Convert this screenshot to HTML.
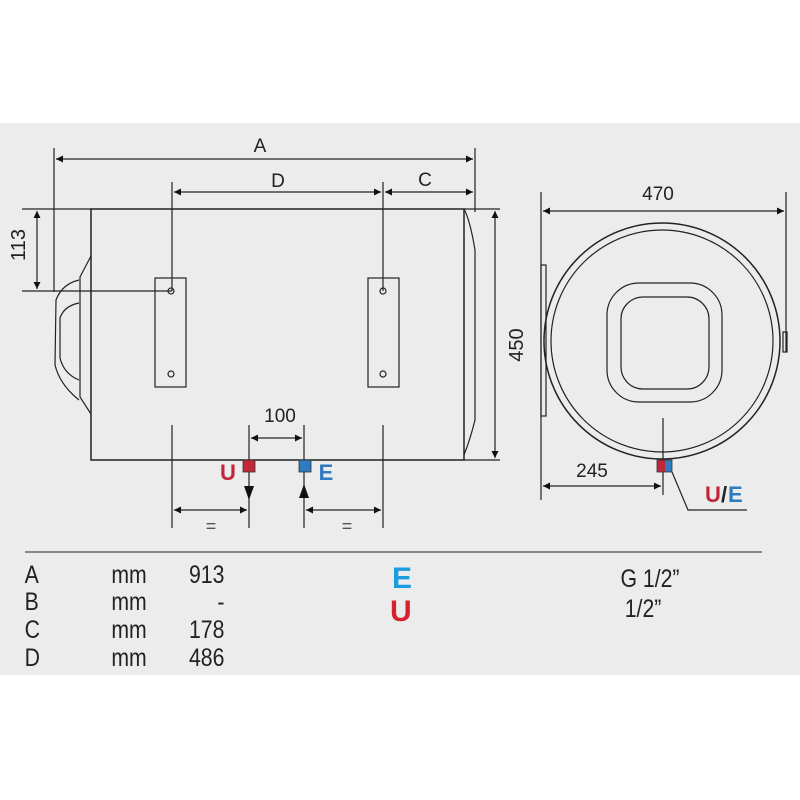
<!DOCTYPE html>
<html><head><meta charset="utf-8"><style>
html,body{margin:0;padding:0;background:#fff;}
svg{display:block}
text{font-family:"Liberation Sans",sans-serif;}
</style></head><body>
<svg width="800" height="800" viewBox="0 0 800 800" xmlns="http://www.w3.org/2000/svg">
<defs>
<marker id="ar" viewBox="0 0 10 10" refX="10" refY="5" markerWidth="9" markerHeight="7" orient="auto-start-reverse" markerUnits="userSpaceOnUse"><path d="M0,0 L10,5 L0,10 z" fill="#111"/></marker>
</defs>
<rect x="0" y="123" width="800" height="552" fill="#ececec"/>
<g stroke="#222" stroke-width="1.2" fill="none">
<line x1="54" y1="148" x2="54" y2="292"/>
<line x1="475" y1="148" x2="475" y2="212"/>
<line x1="56" y1="159" x2="473" y2="159" marker-start="url(#ar)" marker-end="url(#ar)"/>
<line x1="172" y1="182" x2="172" y2="291"/>
<line x1="383" y1="182" x2="383" y2="291"/>
<line x1="174" y1="192" x2="381" y2="192" marker-start="url(#ar)" marker-end="url(#ar)"/>
<line x1="385" y1="192" x2="473" y2="192" marker-start="url(#ar)" marker-end="url(#ar)"/>
<rect x="91" y="209" width="373" height="251" stroke-width="1.5"/>
<path d="M464,209 Q470,220 475,250 L475,420 Q470,440 464,455" />
<line x1="22" y1="209" x2="91" y2="209"/>
<line x1="22" y1="291" x2="172" y2="291"/>
<line x1="37" y1="211" x2="37" y2="289" marker-start="url(#ar)" marker-end="url(#ar)"/>
<path d="M91,256 L80,277 L80,397 L91,414"/>
<path d="M79,280 Q62,284 56,300 L55,365 Q60,385 79,400"/>
<path d="M79,303 Q64,306 60,318 L60,358 Q64,374 79,380"/>
<rect x="155" y="278" width="31" height="109"/>
<rect x="368" y="278" width="31" height="109"/>
<circle cx="171" cy="291" r="3"/><circle cx="171" cy="374" r="3"/>
<circle cx="383" cy="291" r="3"/><circle cx="383" cy="374" r="3"/>
<line x1="172" y1="425" x2="172" y2="528"/>
<line x1="383" y1="425" x2="383" y2="528"/>
<line x1="249" y1="425" x2="249" y2="528"/>
<line x1="304" y1="425" x2="304" y2="528"/>
<line x1="251" y1="438" x2="302" y2="438" marker-start="url(#ar)" marker-end="url(#ar)"/>
<line x1="174" y1="510" x2="247" y2="510" marker-start="url(#ar)" marker-end="url(#ar)"/>
<line x1="306" y1="510" x2="381" y2="510" marker-start="url(#ar)" marker-end="url(#ar)"/>
<line x1="464" y1="209" x2="500" y2="209"/>
<line x1="464" y1="460" x2="500" y2="460"/>
<line x1="495" y1="211" x2="495" y2="458" marker-start="url(#ar)" marker-end="url(#ar)"/>
<line x1="541" y1="192" x2="541" y2="500"/>
<line x1="786" y1="192" x2="786" y2="352"/>
<line x1="543" y1="211" x2="784" y2="211" marker-start="url(#ar)" marker-end="url(#ar)"/>
<circle cx="662" cy="341" r="118" stroke-width="1.5"/>
<circle cx="662" cy="341" r="111"/>
<rect x="541" y="265" width="5" height="151"/>
<rect x="783" y="332" width="4" height="20"/>
<rect x="607" y="283" width="115" height="119" rx="32"/>
<rect x="621" y="297" width="88" height="92" rx="22"/>
<line x1="663" y1="418" x2="663" y2="495"/>
<line x1="543" y1="486" x2="661" y2="486" marker-start="url(#ar)" marker-end="url(#ar)"/>
<path d="M672,472 L688,510 L747,510"/>
<line x1="25" y1="552" x2="762" y2="552" stroke="#666" stroke-width="1.5"/>
</g>
<g fill="#111">
<path d="M244,486 L254,486 L249,500 z"/>
<path d="M299,498 L309,498 L304,484 z"/>
</g>
<rect x="243" y="460" width="12" height="12" fill="#c0283a" stroke="#333" stroke-width="0.8"/>
<rect x="299" y="460" width="12" height="12" fill="#2e7bbf" stroke="#333" stroke-width="0.8"/>
<rect x="657" y="460" width="8" height="12" fill="#c0283a"/>
<rect x="665" y="460" width="7" height="12" fill="#2e7bbf"/>
<rect x="657" y="460" width="15" height="12" fill="none" stroke="#333" stroke-width="0.8"/>
<g fill="#222" font-size="19">
<text x="260" y="152" text-anchor="middle">A</text>
<text x="278" y="187" text-anchor="middle">D</text>
<text x="425" y="186" text-anchor="middle">C</text>
<text x="280" y="422" text-anchor="middle">100</text>
<text x="658" y="200" text-anchor="middle">470</text>
<text x="592" y="477" text-anchor="middle">245</text>
<text transform="translate(25,245) rotate(-90)" text-anchor="middle" font-size="20">113</text>
<text transform="translate(523,345) rotate(-90)" text-anchor="middle" font-size="20">450</text>
<text x="211" y="532" text-anchor="middle" fill="#555" font-size="18">=</text>
<text x="347" y="532" text-anchor="middle" fill="#555" font-size="18">=</text>
</g>
<g font-weight="bold" font-size="22">
<text x="228" y="480" text-anchor="middle" fill="#c0283a">U</text>
<text x="326" y="480" text-anchor="middle" fill="#2e7bbf">E</text>
<text x="705" y="502" fill="#c0283a">U</text><text x="721" y="502" fill="#222">/</text><text x="728" y="502" fill="#2e7bbf">E</text>
</g>
<g fill="#222" font-size="25" transform="scale(0.85,1)">
<text x="29" y="583">A</text>
<text x="29" y="610">B</text>
<text x="29" y="638">C</text>
<text x="29" y="666">D</text>
<text x="131" y="583">mm</text>
<text x="131" y="610">mm</text>
<text x="131" y="638">mm</text>
<text x="131" y="666">mm</text>
<text x="264" y="583" text-anchor="end">913</text>
<text x="264" y="610" text-anchor="end">-</text>
<text x="264" y="638" text-anchor="end">178</text>
<text x="264" y="666" text-anchor="end">486</text>
<text x="730" y="587">G 1/2”</text>
<text x="735" y="617">1/2”</text>
</g>
<g font-weight="bold" font-size="30">
<text x="392" y="588" fill="#1a9ee0">E</text>
<text x="390" y="621" fill="#d6222e">U</text>
</g>
</svg>
</body></html>
